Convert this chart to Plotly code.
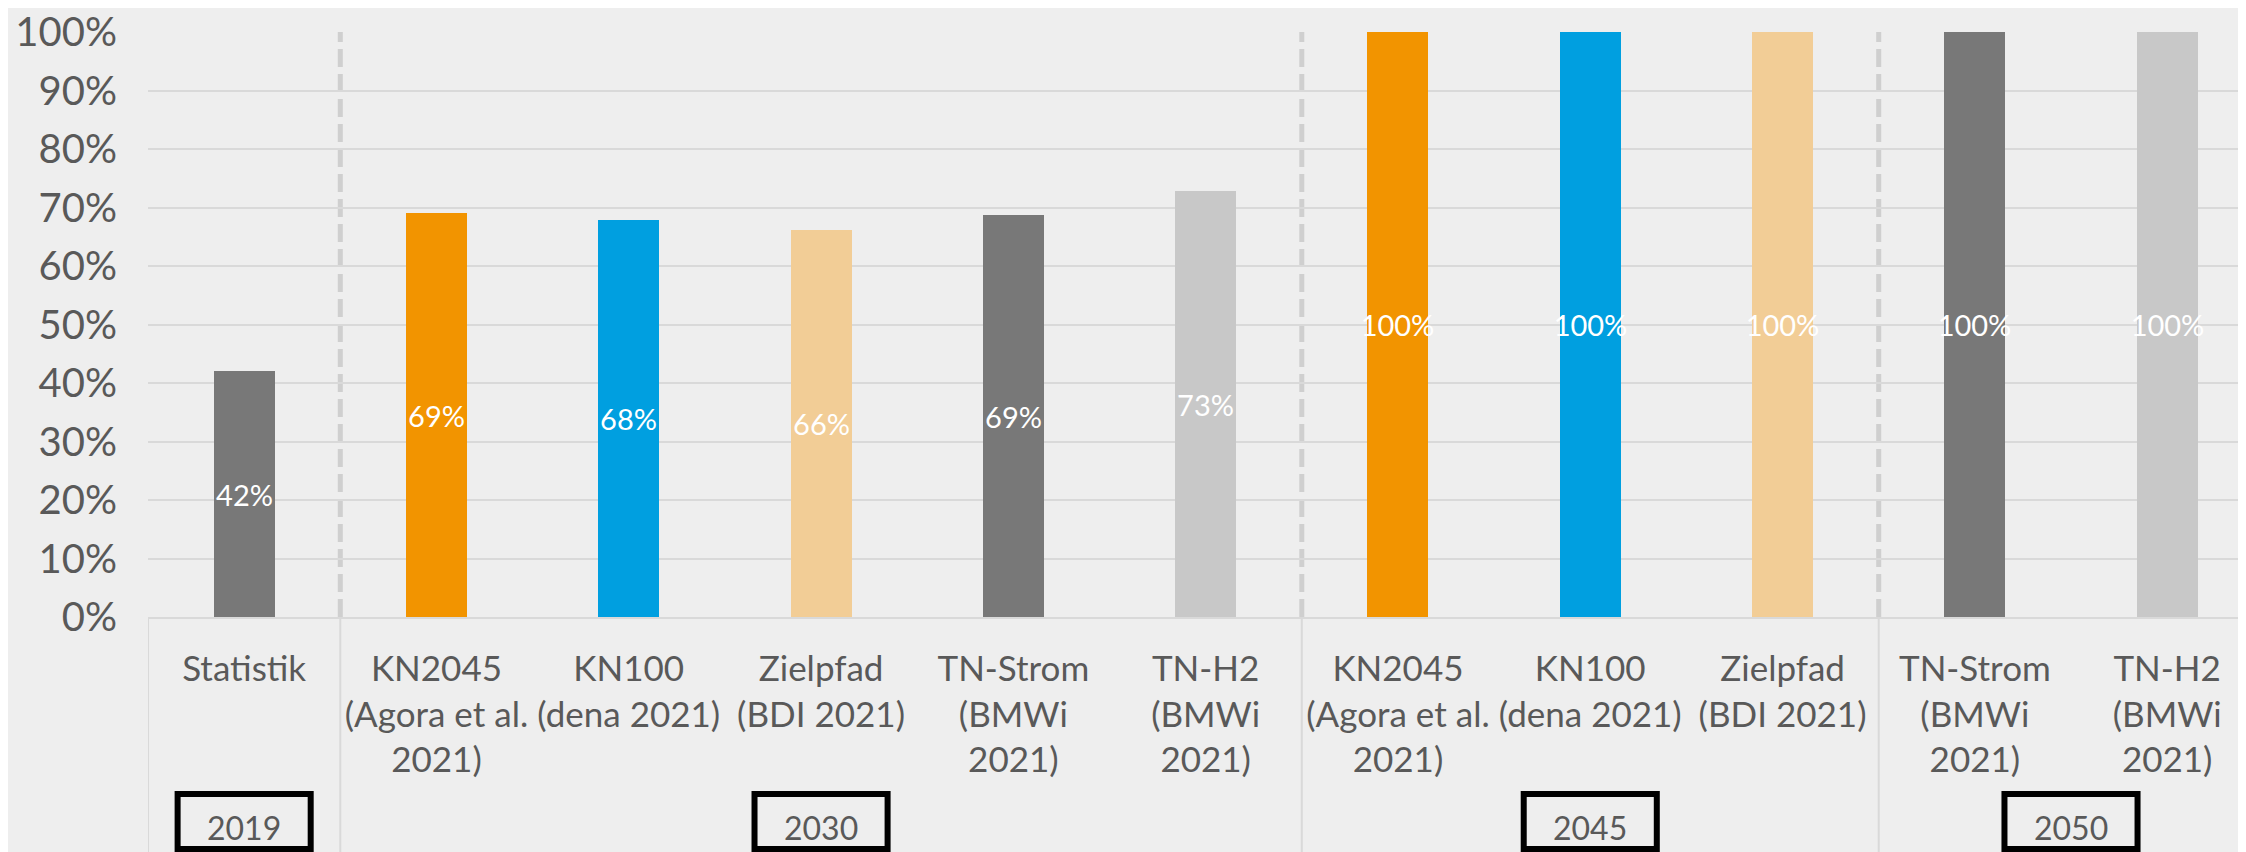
import plotly.graph_objects as go

# ---- data ----
categories = [
    "Statistik",
    "KN2045<br>(Agora et al.<br>2021)",
    "KN100<br>(dena 2021)",
    "Zielpfad<br>(BDI 2021)",
    "TN-Strom<br>(BMWi<br>2021)",
    "TN-H2<br>(BMWi<br>2021)",
    "KN2045<br>(Agora et al.<br>2021)",
    "KN100<br>(dena 2021)",
    "Zielpfad<br>(BDI 2021)",
    "TN-Strom<br>(BMWi<br>2021)",
    "TN-H2<br>(BMWi<br>2021)",
]
values = [0.42, 0.69, 0.678, 0.662, 0.687, 0.728, 1.0, 1.0, 1.0, 1.0, 1.0]
bar_colors = ["#787878", "#F29400", "#009FE0", "#F2CD96", "#787878", "#C8C8C8",
              "#F29400", "#009FE0", "#F2CD96", "#787878", "#C8C8C8"]
years = ["2019", "2030", "2045", "2050"]
group_sizes = [1, 5, 3, 2]
y_ticks = [i / 10 for i in range(11)]

FONT = "Lato, 'Open Sans', sans-serif"
TXT = "#595959"
GRID = "#D9D9D9"
BG = "#EEEEEE"

x = list(range(len(categories)))

fig = go.Figure()
fig.add_trace(go.Bar(
    x=x, y=values, width=0.317,
    marker=dict(color=bar_colors, line=dict(width=0)),
    text=values, texttemplate="%{y:.0%}",
    textposition="inside", insidetextanchor="middle", textangle=0,
    constraintext="none",
    textfont=dict(color="white", size=29, family=FONT),
    hoverinfo="skip",
))

shapes = []
annotations = []
start = 0
bounds = [-0.5]
for yr, n in zip(years, group_sizes):
    end = start + n
    bounds.append(end - 0.5)
    cx = (start + end - 1) / 2
    # year box
    shapes.append(dict(type="rect", xref="x", yref="paper",
                       x0=cx - 0.346, x1=cx + 0.346, y0=-0.3966, y1=-0.3026,
                       line=dict(color="black", width=6), fillcolor="rgba(0,0,0,0)",
                       layer="above"))
    annotations.append(dict(x=cx, y=-0.359, xref="x", yref="paper", text=yr,
                            showarrow=False, font=dict(size=32, color=TXT, family=FONT),
                            xanchor="center", yanchor="middle"))
    start = end

for i, b in enumerate(bounds[:-1]):
    # solid thin line in label area
    shapes.append(dict(type="line", xref="x", yref="paper", x0=b, x1=b, y0=0, y1=-0.45,
                       line=dict(color=GRID, width=2), layer="below"))
    if i > 0:
        shapes.append(dict(type="line", xref="x", yref="paper", x0=b, x1=b, y0=0, y1=1,
                           line=dict(color="#CFCFCF", width=5, dash="18px,7px"),
                           layer="below"))

fig.update_layout(
    width=2246, height=852, autosize=False,
    margin=dict(l=140, r=8, t=24, b=243),
    paper_bgcolor=BG, plot_bgcolor=BG,
    showlegend=False, bargap=0,
    shapes=shapes, annotations=annotations,
    font=dict(family=FONT, color=TXT),
)
fig.update_xaxes(
    range=[-0.5, 10.41], tickmode="array", tickvals=x, ticktext=categories,
    tickfont=dict(size=35, color=TXT, family=FONT), tickangle=0,
    showgrid=False, zeroline=False, showline=True, linecolor=GRID, linewidth=2,
    ticks="", ticklabelstandoff=20, automargin=False, ticklabeloverflow="allow",
)
fig.update_yaxes(
    range=[0, 1], tickvals=y_ticks, tickformat=".0%",
    tickfont=dict(size=40, color=TXT, family=FONT),
    showgrid=True, gridcolor=GRID, gridwidth=2, zeroline=False, showline=False,
    ticks="", ticklabelstandoff=30, automargin=False, ticklabeloverflow="allow",
)

fig.write_html("out.html")
